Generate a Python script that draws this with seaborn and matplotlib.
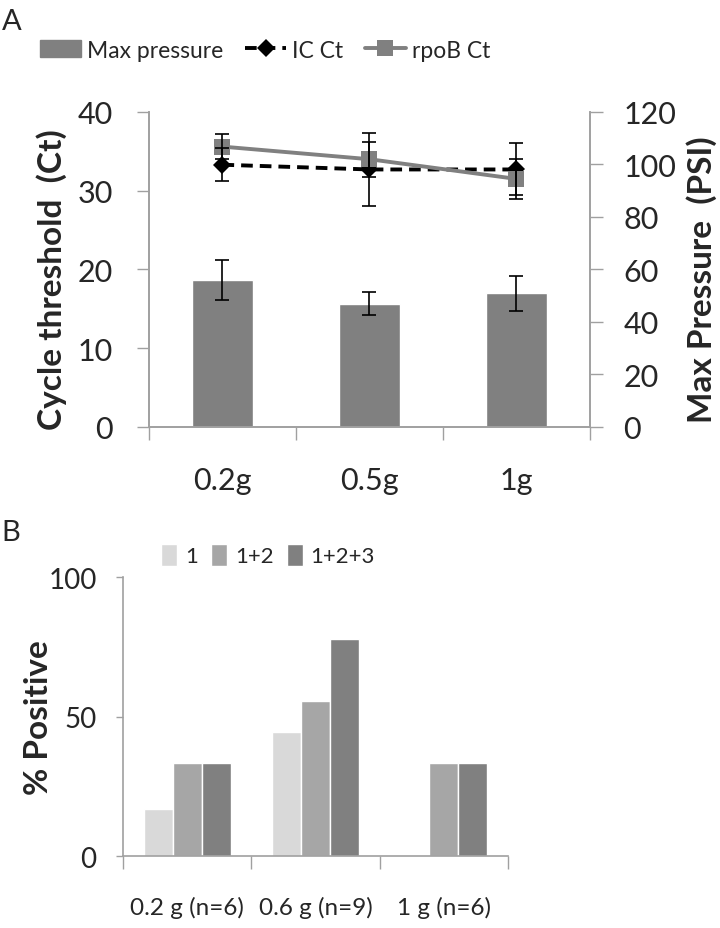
import numpy as np
import pandas as pd
import matplotlib.pyplot as plt
import seaborn as sns

# Panel A data
doses_a = ["0.2g", "0.5g", "1g"]
max_psi = [56, 47, 51]
max_psi_err = [7.5, 4.5, 6.7]
ic_ct = [33.3, 32.7, 32.7]
ic_ct_err = [2.1, 4.6, 3.3]
rpob_ct = [35.6, 34.0, 31.5]
rpob_ct_err = [1.6, 2.2, 2.5]

# Panel B data
doses_b = ["0.2 g (n=6)", "0.6 g (n=9)", "1 g (n=6)"]
sites = ["1", "1+2", "1+2+3"]
pct_1 = [16.7, 44.4, 0]
pct_12 = [33.3, 55.6, 33.3]
pct_123 = [33.3, 77.8, 33.3]

sns.set_style("white")
plt.rcParams['font.family'] = ['Lato', 'DejaVu Sans']
SPINE = '#a0a0a0'
DARK = '#808080'

fig = plt.figure(figsize=(7.2, 9.29), dpi=100)

# ---------- Panel A ----------
axA = fig.add_axes([0.2069, 0.5393, 0.6125, 0.3391])
sns.barplot(x=doses_a, y=max_psi, color=DARK, width=0.41, saturation=1,
            errorbar=None, ax=axA, zorder=2)
xa = np.arange(len(doses_a))
axA.errorbar(xa, max_psi, yerr=max_psi_err, fmt='none', ecolor='black',
             elinewidth=1.2, capsize=5, capthick=1.2, zorder=3)

axL = axA.twinx()
axA.yaxis.tick_right()
axL.yaxis.tick_left()

sns.lineplot(x=xa, y=ic_ct, color='black', lw=2.8, linestyle=(0, (3.0, 1.8)),
             marker='D', markersize=9, markeredgewidth=0, ax=axL, zorder=4,
             label='IC Ct')
sns.lineplot(x=xa, y=rpob_ct, color=DARK, lw=2.8, marker='s', markersize=12,
             markeredgewidth=0, ax=axL, zorder=5, label='rpoB Ct')
axL.get_legend().remove()
line_handles = list(axL.get_lines())
axL.errorbar(xa, ic_ct, yerr=ic_ct_err, fmt='none', ecolor='black',
             elinewidth=1.2, capsize=5, capthick=1.2, zorder=6)
axL.errorbar(xa, rpob_ct, yerr=rpob_ct_err, fmt='none', ecolor='black',
             elinewidth=1.2, capsize=5, capthick=1.2, zorder=6)

axA.set_xlim(-0.5, 2.5)
axA.set_ylim(0, 120)
axA.set_yticks(range(0, 121, 20))
axL.set_ylim(0, 40)
axL.set_yticks(range(0, 41, 10))
axA.set_xlabel('')
axA.set_ylabel('')
axL.set_ylabel('')

axA.set_xticks([-0.5, 0.5, 1.5, 2.5], labels=[''] * 4)
axA.set_xticks(xa, labels=doses_a, minor=True)
axA.tick_params(axis='x', which='major', direction='out', length=9, width=1,
                color=SPINE, bottom=True)
axA.tick_params(axis='x', which='minor', length=0, pad=28, labelsize=22)
axA.tick_params(axis='y', direction='out', length=9, width=1, color=SPINE,
                pad=15, labelsize=22, right=True, left=False)
axL.tick_params(axis='y', direction='out', length=9, width=1, color=SPINE,
                pad=17, labelsize=22, left=True, right=False)

for ax in (axA, axL):
    ax.spines['top'].set_visible(False)
    for s in ('left', 'right', 'bottom'):
        ax.spines[s].set_color(SPINE)
        ax.spines[s].set_linewidth(1.2)

fig.text(52 / 720, 1 - 280 / 929, 'Cycle threshold  (Ct)', rotation=90,
         ha='center', va='center', fontsize=24, fontweight='bold')
fig.text(702 / 720, 1 - 280 / 929, 'Max Pressure  (PSI)', rotation=90,
         ha='center', va='center', fontsize=24, fontweight='bold')

hA = [plt.Rectangle((0, 0), 1, 1, color=DARK)] + line_handles
fig.legend(hA, ['Max pressure', 'IC Ct', 'rpoB Ct'], loc='center',
           bbox_to_anchor=(265 / 720, 1 - 51 / 929), ncol=3, frameon=False,
           fontsize=16.5, handlelength=1.8, handleheight=0.8,
           handletextpad=0.25, columnspacing=0.95, borderpad=0)

fig.text(2 / 720, 1 - 22 / 929, 'A', fontsize=21, va='center', ha='left')

# ---------- Panel B ----------
df_b = pd.DataFrame({
    'dose': doses_b * 3,
    'sites': [s for s in sites for _ in doses_b],
    'pct': pct_1 + pct_12 + pct_123,
})
axB = fig.add_axes([0.1708, 0.0775, 0.5347, 0.3003])
sns.barplot(data=df_b, x='dose', y='pct', hue='sites', hue_order=sites,
            palette=['#d9d9d9', '#a6a6a6', DARK], width=0.68, gap=0,
            saturation=1, errorbar=None, ax=axB)
hB, lB = axB.get_legend_handles_labels()
axB.get_legend().remove()

axB.set_xlim(-0.5, 2.5)
axB.set_ylim(0, 100)
axB.set_yticks([0, 50, 100])
axB.set_xlabel('')
axB.set_ylabel('')
xb = np.arange(len(doses_b))
axB.set_xticks([-0.5, 0.5, 1.5, 2.5], labels=[''] * 4)
axB.set_xticks(xb, labels=doses_b, minor=True)
axB.tick_params(axis='x', which='major', direction='out', length=9, width=1,
                color=SPINE, bottom=True)
axB.tick_params(axis='x', which='minor', length=0, pad=29, labelsize=17.5)
axB.tick_params(axis='y', direction='out', length=5, width=1, color=SPINE,
                pad=14, labelsize=20, left=True)
for s in ('top', 'right'):
    axB.spines[s].set_visible(False)
for s in ('left', 'bottom'):
    axB.spines[s].set_color(SPINE)
    axB.spines[s].set_linewidth(1.2)

fig.text(39 / 720, 1 - 718 / 929, '% Positive', rotation=90, ha='center',
         va='center', fontsize=24, fontweight='bold')
fig.legend(hB, lB, loc='center', bbox_to_anchor=(268 / 720, 1 - 556 / 929),
           ncol=3, frameon=False, fontsize=16,
           handlelength=0.72, handleheight=1.15, handletextpad=0.35,
           columnspacing=0.6, borderpad=0)

fig.text(1 / 720, 1 - 533 / 929, 'B', fontsize=21, va='center', ha='left')

fig.savefig('out.png', dpi=100)
